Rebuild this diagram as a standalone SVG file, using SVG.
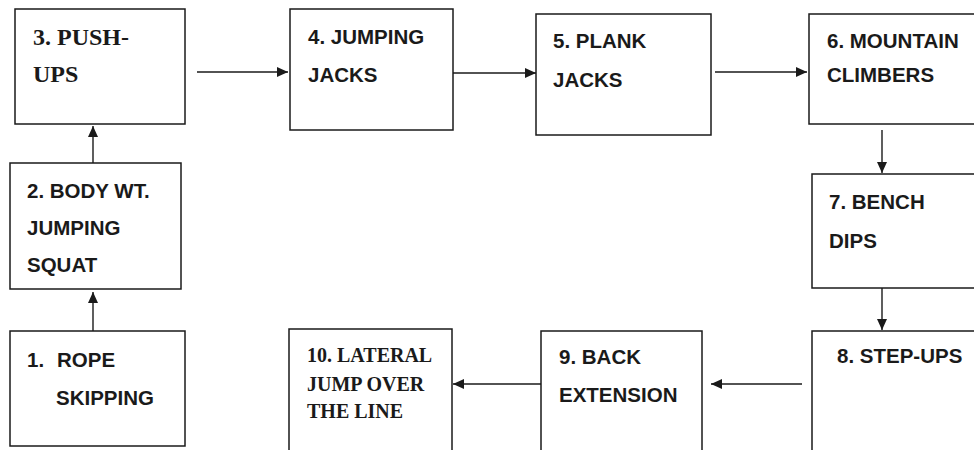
<svg xmlns="http://www.w3.org/2000/svg" width="974" height="450" viewBox="0 0 974 450">
<style>
.box{fill:#fff;stroke:#1a1a1a;stroke-width:1.5}
.c{stroke:#1a1a1a;stroke-width:1.4;fill:none}
.s{font-family:"Liberation Sans",Arial,sans-serif;font-weight:bold;font-size:20.5px;fill:#1a1a1a}
.t{font-family:"Liberation Serif","Times New Roman",serif;font-weight:bold;fill:#1a1a1a}
</style>
<defs>
<marker id="ah" markerUnits="userSpaceOnUse" markerWidth="11" markerHeight="10" refX="11" refY="5" orient="auto">
<path d="M0,0 L11,5 L0,10 z" fill="#1a1a1a"/>
</marker>
</defs>
<rect width="974" height="450" fill="#fff"/>
<g id="connectors">
<line class="c" x1="93" y1="331" x2="93" y2="292" marker-end="url(#ah)"/>
<line class="c" x1="93" y1="163" x2="93" y2="126" marker-end="url(#ah)"/>
<line class="c" x1="197" y1="72" x2="288" y2="72" marker-end="url(#ah)"/>
<line class="c" x1="452" y1="73" x2="536" y2="73" marker-end="url(#ah)"/>
<line class="c" x1="715" y1="72" x2="807" y2="72" marker-end="url(#ah)"/>
<line class="c" x1="882" y1="130" x2="882" y2="173" marker-end="url(#ah)"/>
<line class="c" x1="882" y1="288" x2="882" y2="330" marker-end="url(#ah)"/>
<line class="c" x1="802" y1="384" x2="711" y2="384" marker-end="url(#ah)"/>
<line class="c" x1="541" y1="384" x2="453" y2="384" marker-end="url(#ah)"/>
</g>
<g id="n1">
<rect class="box" x="10" y="331" width="175" height="115"/>
<text class="s" y="367"><tspan x="27">1.</tspan><tspan x="57">ROPE</tspan></text>
<text class="s" x="56" y="405">SKIPPING</text>
</g>
<g id="n2">
<rect class="box" x="10" y="163" width="171" height="126"/>
<text class="s" x="27" y="198">2. BODY WT.</text>
<text class="s" x="27" y="235">JUMPING</text>
<text class="s" x="27" y="272">SQUAT</text>
</g>
<g id="n3">
<rect class="box" x="15" y="9" width="170" height="115"/>
<text class="t" x="33" y="45" font-size="24">3. PUSH-</text>
<text class="t" x="33" y="82" font-size="24">UPS</text>
</g>
<g id="n4">
<rect class="box" x="290" y="9" width="163" height="121"/>
<text class="s" x="308" y="44">4. JUMPING</text>
<text class="s" x="308" y="82">JACKS</text>
</g>
<g id="n5">
<rect class="box" x="536" y="14" width="175" height="121"/>
<text class="s" x="553" y="48">5. PLANK</text>
<text class="s" x="553" y="87">JACKS</text>
</g>
<g id="n6">
<rect class="box" x="809" y="14" width="180" height="110"/>
<text class="s" x="827" y="48" font-size="19.5">6. MOUNTAIN</text>
<text class="s" x="827" y="82" font-size="19.5">CLIMBERS</text>
</g>
<g id="n7">
<rect class="box" x="812" y="174" width="180" height="114"/>
<text class="s" x="829" y="209">7. BENCH</text>
<text class="s" x="829" y="248">DIPS</text>
</g>
<g id="n8">
<rect class="box" x="812" y="331" width="180" height="130"/>
<text class="s" x="837" y="363">8. STEP-UPS</text>
</g>
<g id="n9">
<rect class="box" x="541" y="331" width="161" height="130"/>
<text class="s" x="559" y="364">9. BACK</text>
<text class="s" x="559" y="402">EXTENSION</text>
</g>
<g id="n10">
<rect class="box" x="289" y="329" width="163" height="132"/>
<text class="t" x="307" y="362" font-size="20">10. LATERAL</text>
<text class="t" x="307" y="391" font-size="20">JUMP OVER</text>
<text class="t" x="307" y="418" font-size="20">THE LINE</text>
</g>
</svg>
